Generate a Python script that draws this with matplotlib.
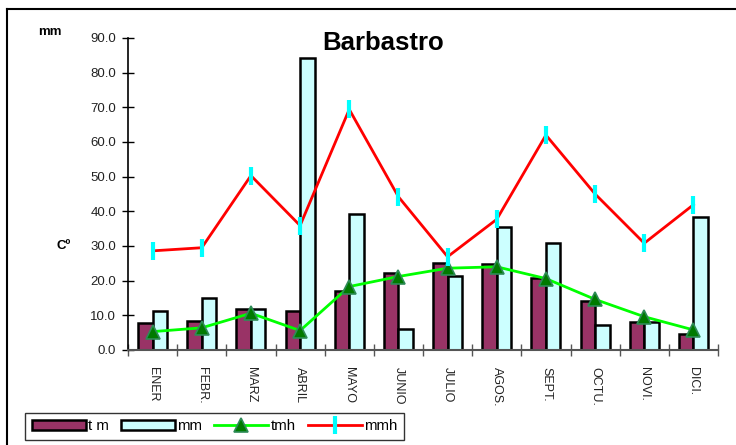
import matplotlib
matplotlib.use("Agg")
import matplotlib.pyplot as plt
import numpy as np

months = ["ENER", "FEBR.", "MARZ", "ABRIL", "MAYO", "JUNIO", "JULIO", "AGOS.", "SEPT.", "OCTU.", "NOVI.", "DICI."]
t_m = [7.8, 8.4, 11.8, 11.3, 17.0, 22.1, 25.1, 24.9, 20.7, 14.0, 8.2, 4.6]
mm = [11.3, 14.9, 11.7, 84.2, 39.2, 6.2, 21.3, 35.5, 30.9, 7.3, 8.0, 38.4]
tmh = [5.3, 6.4, 10.6, 5.6, 18.3, 21.2, 23.6, 24.0, 20.6, 14.6, 9.6, 5.8]
mmh = [28.6, 29.5, 50.3, 35.9, 69.4, 44.2, 26.9, 37.7, 62.0, 45.0, 30.8, 41.9]
yticks = [0, 10, 20, 30, 40, 50, 60, 70, 80, 90]

plt.rcParams['font.family'] = ['Liberation Sans', 'DejaVu Sans']

fig = plt.figure(figsize=(7.36, 4.45), dpi=100)
ax = fig.add_axes([128/736, 1-350/445, 590/736, 312/445])

x = np.arange(len(months))
w = 0.295
b1 = ax.bar(x - w/2, t_m, width=w, color='#993366', edgecolor='black', linewidth=1.8, label='t m', zorder=2)
b2 = ax.bar(x + w/2, mm, width=w, color='#CCFFFF', edgecolor='black', linewidth=1.8, label='mm', zorder=2)
l1, = ax.plot(x, tmh, color='#00FF00', linewidth=2, marker='^', markersize=10.5,
              markerfacecolor='#007A00', markeredgecolor='#2E8B57', markeredgewidth=1.2, label='tmh', zorder=3)
l2, = ax.plot(x, mmh, color='#FF0000', linewidth=2, marker='|', markersize=13,
              markeredgecolor='#00FFFF', markeredgewidth=3, label='mmh', zorder=3)

ax.set_xlim(-0.5, len(months) - 0.5)
ax.set_ylim(0, 90)
ax.set_yticks(yticks)
ax.set_yticklabels([f"{v:.1f}" for v in yticks], fontsize=9.5, color='#222222')
ax.set_xticks(x)
ax.set_xticklabels(months, rotation=270, fontsize=9, color='#222222')
ax.tick_params(axis='x', length=0, pad=12)
ax.set_xticks(np.arange(-0.5, len(months)), minor=True)
ax.tick_params(axis='x', which='minor', direction='inout', length=8, width=1, color='#555555')
ax.tick_params(axis='y', direction='inout', length=9, width=1, pad=4)

for s in ['top', 'right']:
    ax.spines[s].set_visible(False)
ax.spines['left'].set_linewidth(1.2)
ax.spines['bottom'].set_linewidth(1.5)
ax.spines['bottom'].set_color('#555555')

fig.text(383/736, 1-43/445, "Barbastro", fontsize=18.5, fontweight='bold', ha='center', va='center')
fig.text(50/736, 1-32/445, "mm", fontsize=9.5, fontweight='bold', ha='center', va='center')
fig.text(64/736, 1-246/445, "Cº", fontsize=9.5, fontweight='bold', ha='center', va='center')

# outer frame (top & left)
fig.add_artist(plt.Line2D([7/736, 1.0], [1-8.5/445, 1-8.5/445], color='black', linewidth=1.5, transform=fig.transFigure))
fig.add_artist(plt.Line2D([7/736, 7/736], [0, 1-8.5/445], color='black', linewidth=1.5, transform=fig.transFigure))

leg = fig.legend(handles=[b1, b2, l1, l2], labels=['t m', 'mm', 'tmh', 'mmh'],
                 loc='lower left', bbox_to_anchor=(25/736, 1-440/445), ncol=4, fontsize=10.8,
                 frameon=True, fancybox=False, edgecolor='black', handlelength=3.6,
                 handletextpad=0.15, columnspacing=0.8, borderpad=0.45, borderaxespad=0)
leg.get_frame().set_linewidth(1.0)

fig.savefig("out.png", dpi=100)
